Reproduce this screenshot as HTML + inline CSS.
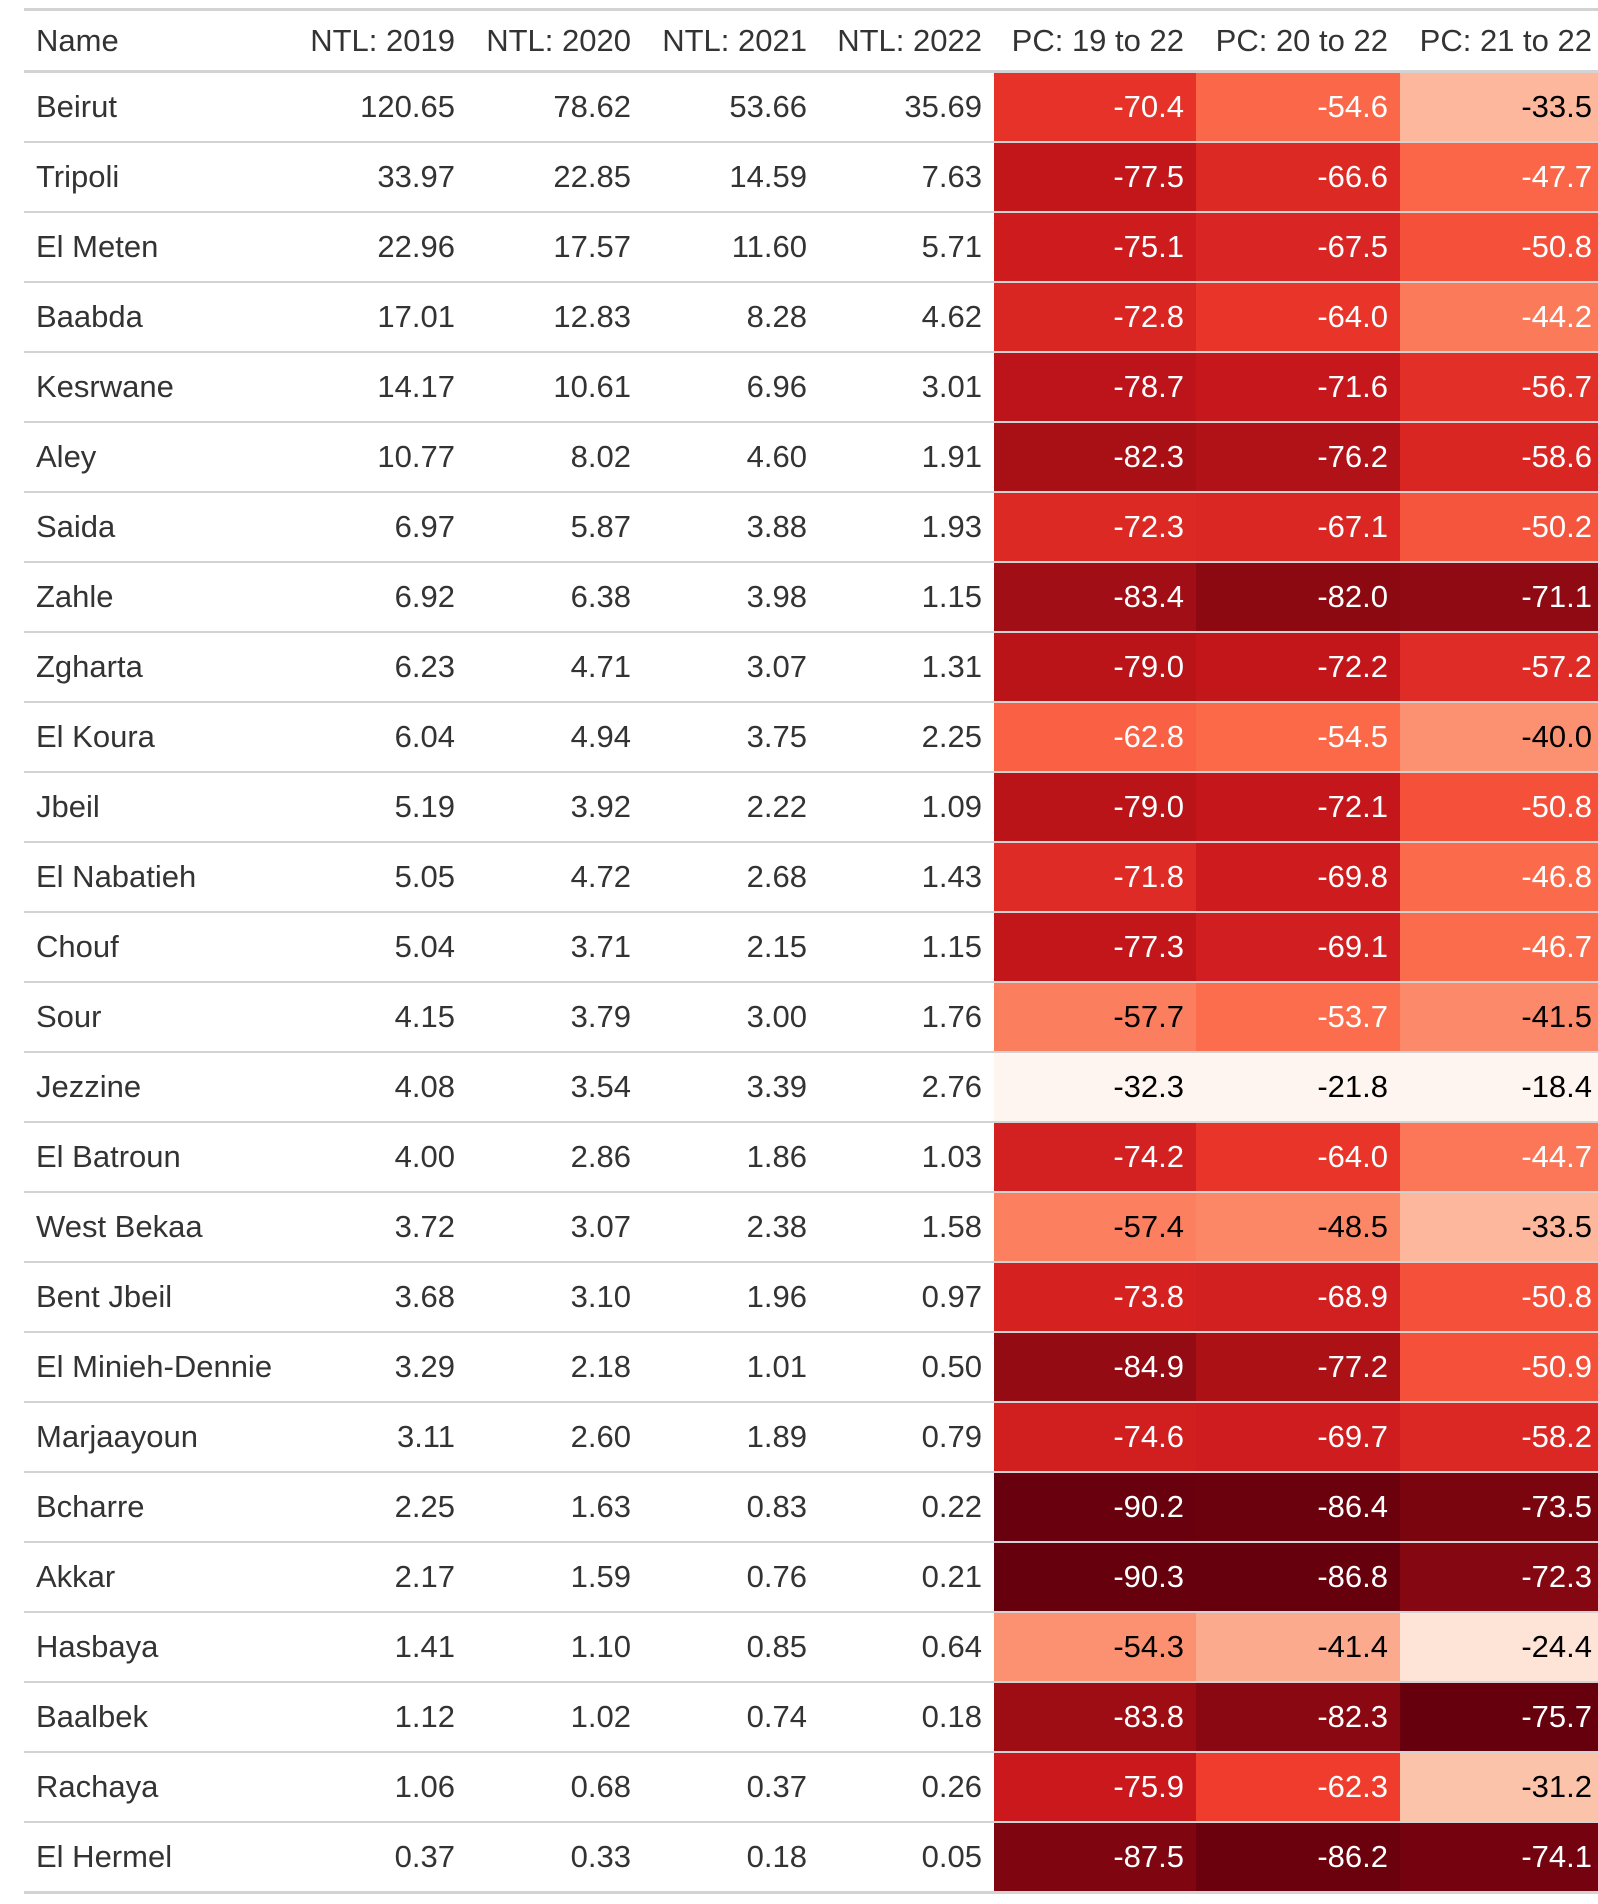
<!DOCTYPE html>
<html><head><meta charset="utf-8"><style>
body{margin:0;width:1598px;height:1904px;overflow:hidden;background:#fff;font-family:"Liberation Sans",sans-serif;}
table{position:absolute;left:24px;top:8px;border-collapse:collapse;table-layout:fixed;width:1580px;font-size:31px;color:#333;}
th{height:59px;font-weight:normal;padding:0 12px;border-top:3px solid #d3d3d3;border-bottom:3px solid #d3d3d3;white-space:nowrap;}
td{height:68px;padding:0 12px;border-bottom:2px solid #d3d3d3;white-space:nowrap;}
tr:last-child td{border-bottom:3px solid #d3d3d3;}
.l{text-align:left}.r{text-align:right}
</style></head><body>
<table>
<colgroup><col style="width:267px"><col style="width:176px"><col style="width:176px"><col style="width:176px"><col style="width:175px"><col style="width:202px"><col style="width:204px"><col style="width:204px"></colgroup>
<thead><tr>
<th class="l">Name</th>
<th class="r">NTL: 2019</th>
<th class="r">NTL: 2020</th>
<th class="r">NTL: 2021</th>
<th class="r">NTL: 2022</th>
<th class="r">PC: 19 to 22</th>
<th class="r">PC: 20 to 22</th>
<th class="r">PC: 21 to 22</th>
</tr></thead>
<tbody id="tb"></tbody></table>
<script>
const names=["Beirut","Tripoli","El Meten","Baabda","Kesrwane","Aley","Saida","Zahle","Zgharta","El Koura","Jbeil","El Nabatieh","Chouf","Sour","Jezzine","El Batroun","West Bekaa","Bent Jbeil","El Minieh-Dennie","Marjaayoun","Bcharre","Akkar","Hasbaya","Baalbek","Rachaya","El Hermel"];
const ntl2019=[120.65,33.97,22.96,17.01,14.17,10.77,6.97,6.92,6.23,6.04,5.19,5.05,5.04,4.15,4.08,4.00,3.72,3.68,3.29,3.11,2.25,2.17,1.41,1.12,1.06,0.37];
const ntl2020=[78.62,22.85,17.57,12.83,10.61,8.02,5.87,6.38,4.71,4.94,3.92,4.72,3.71,3.79,3.54,2.86,3.07,3.10,2.18,2.60,1.63,1.59,1.10,1.02,0.68,0.33];
const ntl2021=[53.66,14.59,11.60,8.28,6.96,4.60,3.88,3.98,3.07,3.75,2.22,2.68,2.15,3.00,3.39,1.86,2.38,1.96,1.01,1.89,0.83,0.76,0.85,0.74,0.37,0.18];
const ntl2022=[35.69,7.63,5.71,4.62,3.01,1.91,1.93,1.15,1.31,2.25,1.09,1.43,1.15,1.76,2.76,1.03,1.58,0.97,0.50,0.79,0.22,0.21,0.64,0.18,0.26,0.05];
const pc1922=[-70.4,-77.5,-75.1,-72.8,-78.7,-82.3,-72.3,-83.4,-79.0,-62.8,-79.0,-71.8,-77.3,-57.7,-32.3,-74.2,-57.4,-73.8,-84.9,-74.6,-90.2,-90.3,-54.3,-83.8,-75.9,-87.5];
const pc2022=[-54.6,-66.6,-67.5,-64.0,-71.6,-76.2,-67.1,-82.0,-72.2,-54.5,-72.1,-69.8,-69.1,-53.7,-21.8,-64.0,-48.5,-68.9,-77.2,-69.7,-86.4,-86.8,-41.4,-82.3,-62.3,-86.2];
const pc2122=[-33.5,-47.7,-50.8,-44.2,-56.7,-58.6,-50.2,-71.1,-57.2,-40.0,-50.8,-46.8,-46.7,-41.5,-18.4,-44.7,-33.5,-50.8,-50.9,-58.2,-73.5,-72.3,-24.4,-75.7,-31.2,-74.1];
const reds=["#fff5f0","#fee0d2","#fcbba1","#fc9272","#fb6a4a","#ef3b2c","#cb181d","#a50f15","#67000d"];
function hex(h){return [1,3,5].map(i=>parseInt(h.substr(i,2),16));}
function col(t){t=Math.max(0,Math.min(1,t));const p=t*8,i=Math.min(7,Math.floor(p)),f=p-i;const a=hex(reds[i]),b=hex(reds[i+1]);return "rgb("+a.map((v,k)=>Math.round(v+(b[k]-v)*f)).join(",")+")";}
const tb=document.getElementById('tb');
const pcs=[[pc1922,"pc-19-22"],[pc2022,"pc-20-22"],[pc2122,"pc-21-22"]];
const ext=pcs.map(([a])=>[Math.max(...a),Math.min(...a)]);
names.forEach((n,i)=>{
 const tr=document.createElement('tr');
 
 
 const td=document.createElement('td');td.className='l';td.textContent=n;
 
 
 tr.appendChild(td);
 [[ntl2019,"ntl-2019"],[ntl2020,"ntl-2020"],[ntl2021,"ntl-2021"],[ntl2022,"ntl-2022"]].forEach(([a,k])=>{
  const c=document.createElement('td');c.className='r';c.textContent=a[i].toFixed(2);
  
  
  tr.appendChild(c);});
 pcs.forEach(([a,k],j)=>{
  const c=document.createElement('td');c.className='r';c.textContent=a[i].toFixed(1);
  const t=(ext[j][0]-a[i])/(ext[j][0]-ext[j][1]);
  c.style.background=col(t);c.style.color=t<0.445?'#000':'#fff';
  
  
  tr.appendChild(c);});
 tb.appendChild(tr);
});
</script>
</body></html>
